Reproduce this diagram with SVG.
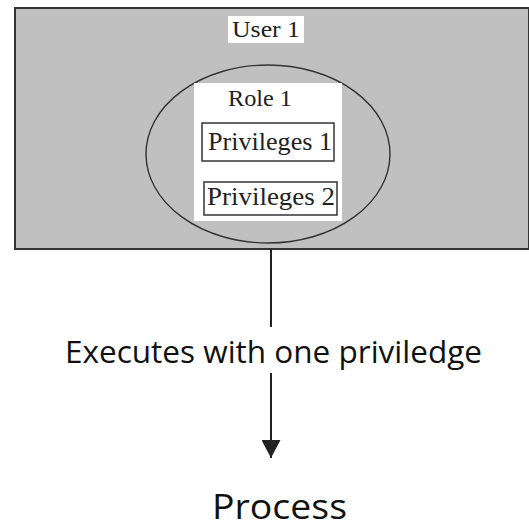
<svg xmlns="http://www.w3.org/2000/svg" width="529" height="531" viewBox="0 0 529 531">
  <style>
    .serif { font-family: "Liberation Serif", "DejaVu Serif", serif; fill: #222; }
    .sans { font-family: "Open Sans", "Liberation Sans", sans-serif; fill: #111; }
    .box { fill: #fff; stroke: #333; stroke-width: 1.5; }
  </style>
  <defs>
    <marker id="arrow" markerWidth="19" markerHeight="19" refX="18" refY="9.5" orient="auto" markerUnits="userSpaceOnUse" viewBox="0 0 19 19">
      <path d="M0,0 L18,9.5 L0,19 Z" fill="#222"/>
    </marker>
  </defs>
  <rect width="529" height="531" fill="#fff"/>

  <g id="user1">
    <rect x="15" y="8" width="514" height="241" fill="#c0c0c0" stroke="#333" stroke-width="2"/>
    <rect x="228" y="16" width="76" height="27" fill="#fff"/>
    <text class="serif" x="266" y="37" font-size="23" text-anchor="middle" textLength="68" lengthAdjust="spacingAndGlyphs">User 1</text>
  </g>

  <g id="role1">
    <ellipse cx="268" cy="154" rx="122" ry="89" fill="none" stroke="#333" stroke-width="1.4"/>
    <rect x="194" y="83" width="148" height="138" fill="#fff"/>
    <text class="serif" x="260" y="106" font-size="24" text-anchor="middle" textLength="64" lengthAdjust="spacingAndGlyphs">Role 1</text>
  </g>

  <g id="privileges1">
    <rect class="box" x="202" y="123" width="132" height="38"/>
    <text class="serif" x="270" y="150" font-size="25" text-anchor="middle" textLength="124" lengthAdjust="spacingAndGlyphs">Privileges 1</text>
  </g>

  <g id="privileges2">
    <rect class="box" x="204" y="182" width="133" height="33"/>
    <text class="serif" x="271" y="205" font-size="25" text-anchor="middle" textLength="128" lengthAdjust="spacingAndGlyphs">Privileges 2</text>
  </g>

  <g id="connectors">
    <line x1="271" y1="249" x2="271" y2="327" stroke="#222" stroke-width="2"/>
    <line x1="271" y1="373" x2="271" y2="458" stroke="#222" stroke-width="2" marker-end="url(#arrow)"/>
    <text class="sans" x="273.5" y="363" font-size="31" text-anchor="middle" textLength="417" lengthAdjust="spacingAndGlyphs">Executes with one priviledge</text>
  </g>

  <g id="process">
    <text class="sans" x="279.5" y="519" font-size="35" text-anchor="middle" textLength="135" lengthAdjust="spacingAndGlyphs">Process</text>
  </g>
</svg>
